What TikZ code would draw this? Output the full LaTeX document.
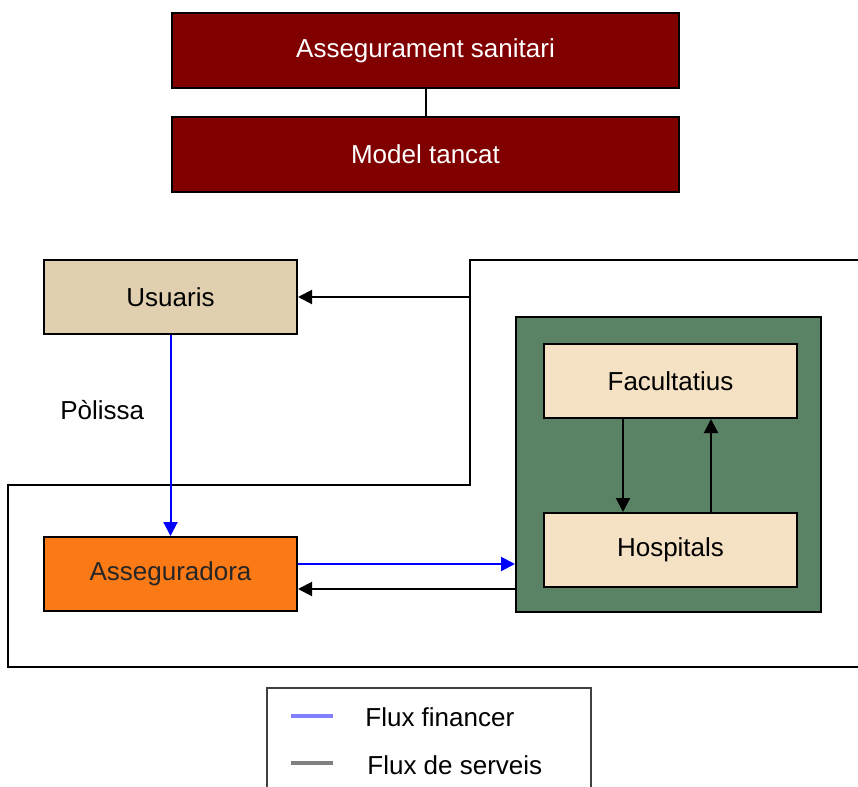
\documentclass[tikz,border=0pt]{standalone}
\usepackage{fontspec}
\setmainfont{Liberation Sans}
\usetikzlibrary{arrows.meta}
\definecolor{darkred}{RGB}{128,0,0}
\definecolor{tanbox}{RGB}{224,208,176}
\definecolor{lightbox}{RGB}{245,225,195}
\definecolor{orangebox}{RGB}{252,122,22}
\definecolor{greenbox}{RGB}{90,130,100}
\definecolor{legblue}{RGB}{128,128,255}
\definecolor{leggray}{RGB}{128,128,128}
\tikzset{
  every node/.style={font=\fontsize{13pt}{15pt}\selectfont},
  redbox/.style={draw=black, line width=1pt, fill=darkred, text=white, minimum width=253.5pt, minimum height=37.5pt, inner sep=0pt},
  plainbox/.style={draw=black, line width=1pt, minimum width=126.5pt, minimum height=37pt, inner sep=0pt},
  greenarea/.style={draw=black, line width=1pt, fill=greenbox, minimum width=152.5pt, minimum height=147.5pt, inner sep=0pt},
  flowfin/.style={draw=blue, line width=1pt, -{Triangle[length=7pt,width=7pt]}},
  flowserv/.style={draw=black, line width=1pt, -{Triangle[length=7pt,width=7pt]}},
  outline/.style={draw=black, line width=1pt},
  labeltext/.style={anchor=west, inner sep=0pt}
}
\begin{document}
\begin{tikzpicture}[x=0.5pt, y=-0.5pt]
\clip (0,0) rectangle (858,787);
% top boxes
\node[redbox] (as) at (425.5,50.5) {Assegurament sanitari};
\node[redbox] (mt) at (425.5,154.5) {Model tancat};
\draw[outline] (as.south) -- (mt.north);
% outline polygon
\draw[outline] (870,260) -- (470,260) -- (470,485) -- (8,485) -- (8,667) -- (870,667);
% nodes
\node[plainbox, fill=tanbox] (u) at (170.5,297) {Usuaris};
\node[greenarea] (g) at (668.5,464.5) {};
\node[plainbox, fill=lightbox] (f) at (670.5,381) {Facultatius};
\node[plainbox, fill=lightbox] (h) at (670.5,550) {Hospitals};
\node[plainbox, fill=orangebox, text=black!85] (a) at (170.5,574) {Asseguradora};
\node[labeltext] (pol) at (60,410) {Pòlissa};
% connectors
\coordinate (br) at (470,297);
\draw[flowserv] (br) -- (u.east);
\draw[flowfin] (u.south) -- (a.north);
\coordinate (ae1) at ([yshift=5pt]a.east);
\coordinate (ae2) at ([yshift=-7.5pt]a.east);
\draw[flowfin] (ae1) -- (ae1 -| g.west);
\draw[flowserv] (ae2 -| g.west) -- (ae2);
\draw[flowserv] ([xshift=-23.75pt]f.south) -- ([xshift=-23.75pt]h.north);
\draw[flowserv] ([xshift=20.25pt]h.north) -- ([xshift=20.25pt]f.south);
% legend
\draw[draw=black!75, line width=1pt] (267,800) -- (267,688) -- (591,688) -- (591,800);
\coordinate (l1a) at (291,716);
\coordinate (l1b) at (333,716);
\coordinate (l2a) at (291,763);
\coordinate (l2b) at (333,763);
\draw[legblue, line width=1.75pt] (l1a) -- (l1b);
\draw[leggray, line width=1.75pt] (l2a) -- (l2b);
\node[labeltext] (t1) at (365,717) {Flux financer};
\node[labeltext] (t2) at (367,765) {Flux de serveis};
\end{tikzpicture}
\end{document}
